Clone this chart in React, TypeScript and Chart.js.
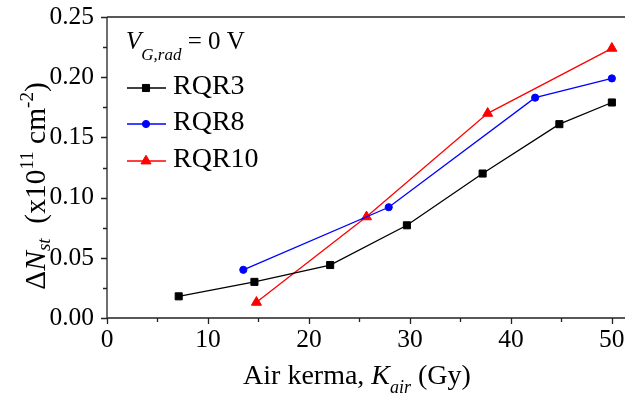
import React, { useEffect, useRef } from "react";
import { Chart, registerables } from "chart.js";

Chart.register(...registerables);

// ---- data ----
const rqr3X = [7.1, 14.6, 22.1, 29.7, 37.2, 44.8, 50.0];
const rqr3Y = [0.018, 0.030, 0.044, 0.077, 0.120, 0.161, 0.179];
const rqr8X = [13.5, 27.9, 42.4, 50.0];
const rqr8Y = [0.040, 0.092, 0.183, 0.199];
const rqr10X = [14.8, 25.7, 37.7, 50.0];
const rqr10Y = [0.013, 0.084, 0.170, 0.224];

const seriesNames = ["RQR3", "RQR8", "RQR10"];
const xMajorTicks = [0, 10, 20, 30, 40, 50];
const xMinorTicks = [5, 15, 25, 35, 45];
const yMajorTicks = [0, 0.05, 0.1, 0.15, 0.2, 0.25];
const yMinorTicks = [0.025, 0.075, 0.125, 0.175, 0.225];

const FONT = "'Liberation Serif', 'Times New Roman', serif";

type Piece = { t: string; italic?: boolean; size: number; dy?: number };

function drawPieces(ctx: CanvasRenderingContext2D, pieces: Piece[], x: number, y: number, center: boolean) {
  let total = 0;
  for (const p of pieces) {
    ctx.font = `${p.italic ? "italic " : ""}${p.size}px ${FONT}`;
    total += ctx.measureText(p.t).width;
  }
  let cx = center ? x - total / 2 : x;
  for (const p of pieces) {
    ctx.font = `${p.italic ? "italic " : ""}${p.size}px ${FONT}`;
    ctx.fillText(p.t, cx, y + (p.dy || 0));
    cx += ctx.measureText(p.t).width;
  }
}

function legendMarker(ctx: CanvasRenderingContext2D, style: string, r: number, x: number, y: number) {
  ctx.beginPath();
  if (style === "rect") {
    const s = r / Math.SQRT2;
    ctx.rect(x - s, y - s, 2 * s, 2 * s);
  } else if (style === "circle") {
    ctx.arc(x, y, r, 0, Math.PI * 2);
  } else {
    ctx.moveTo(x, y - r);
    ctx.lineTo(x + (Math.sqrt(3) / 2) * r, y + r / 2);
    ctx.lineTo(x - (Math.sqrt(3) / 2) * r, y + r / 2);
    ctx.closePath();
  }
  ctx.fill();
  ctx.stroke();
}

const decorPlugin = {
  id: "decor",
  afterDraw(chart: any) {
    const ctx: CanvasRenderingContext2D = chart.ctx;
    const xs = chart.scales.x;
    const ys = chart.scales.y;
    const { left, right, top, bottom } = chart.chartArea;
    ctx.save();
    ctx.strokeStyle = "#222";
    ctx.lineWidth = 1.3;
    // frame
    ctx.beginPath();
    ctx.moveTo(left, top);
    ctx.lineTo(left, bottom);
    ctx.lineTo(right, bottom);
    ctx.moveTo(left, top);
    ctx.lineTo(right, top);
    ctx.stroke();
    // ticks
    ctx.beginPath();
    for (const v of xMajorTicks) {
      const px = Math.round(xs.getPixelForValue(v)) + 0.5;
      ctx.moveTo(px, bottom);
      ctx.lineTo(px, bottom + 6);
    }
    for (const v of xMinorTicks) {
      const px = Math.round(xs.getPixelForValue(v)) + 0.5;
      ctx.moveTo(px, bottom);
      ctx.lineTo(px, bottom + 4);
    }
    for (const v of yMajorTicks) {
      const py = Math.round(ys.getPixelForValue(v)) + 0.5;
      ctx.moveTo(left, py);
      ctx.lineTo(left - 6, py);
    }
    for (const v of yMinorTicks) {
      const py = Math.round(ys.getPixelForValue(v)) + 0.5;
      ctx.moveTo(left, py);
      ctx.lineTo(left - 4, py);
    }
    ctx.stroke();

    ctx.fillStyle = "#000";

    // tick labels
    ctx.font = `25.5px ${FONT}`;
    ctx.textAlign = "center";
    ctx.textBaseline = "alphabetic";
    for (const v of xMajorTicks) {
      ctx.fillText(String(v), xs.getPixelForValue(v), 347);
    }
    ctx.textAlign = "right";
    ctx.textBaseline = "middle";
    for (const v of yMajorTicks) {
      ctx.fillText(v.toFixed(2), 94, ys.getPixelForValue(v));
    }

    ctx.textBaseline = "alphabetic";
    ctx.textAlign = "left";

    // x title
    drawPieces(
      ctx,
      [
        { t: "Air kerma, ", size: 28 },
        { t: "K", size: 28, italic: true },
        { t: "air", size: 18, italic: true, dy: 9 },
        { t: " (Gy)", size: 28 },
      ],
      357,
      384,
      true
    );

    // y title (rotated)
    ctx.save();
    ctx.translate(45, 186);
    ctx.rotate(-Math.PI / 2);
    drawPieces(
      ctx,
      [
        { t: "\u0394", size: 29.5 },
        { t: "N", size: 29.5, italic: true },
        { t: "st", size: 19, italic: true, dy: 5 },
        { t: "  (x10", size: 29.5 },
        { t: "11", size: 19, dy: -12 },
        { t: " cm", size: 29.5 },
        { t: "-2", size: 19, dy: -12 },
        { t: ")", size: 29.5 },
      ],
      0,
      0,
      true
    );
    ctx.restore();

    // legend
    drawPieces(
      ctx,
      [
        { t: "V", size: 25, italic: true },
        { t: "G,rad", size: 17, italic: true, dy: 11 },
        { t: " = 0 V", size: 25 },
      ],
      126,
      49,
      false
    );
    const rows = [88, 124, 161];
    chart.data.datasets.forEach((ds: any, i: number) => {
      const ry = rows[i];
      ctx.strokeStyle = ds.borderColor;
      ctx.lineWidth = ds.borderWidth;
      ctx.beginPath();
      ctx.moveTo(127, ry);
      ctx.lineTo(166, ry);
      ctx.stroke();
      ctx.fillStyle = ds.pointBackgroundColor;
      ctx.strokeStyle = ds.pointBorderColor;
      ctx.lineWidth = 1;
      legendMarker(ctx, ds.pointStyle, ds.pointRadius, 146, ry);
      ctx.fillStyle = "#000";
      ctx.font = `28px ${FONT}`;
      ctx.fillText(ds.label, 173, ry + 6);
    });
    ctx.restore();
  },
};

function toPoints(xs: number[], ys: number[]) {
  return xs.map((x, i) => ({ x, y: ys[i] }));
}

function zeroPad(s: any) {
  s.paddingTop = 0;
  s.paddingBottom = 0;
  s.paddingLeft = 0;
  s.paddingRight = 0;
}

export default function App() {
  const ref = useRef<HTMLCanvasElement | null>(null);
  useEffect(() => {
    document.body.style.margin = "0";
    const canvas = ref.current;
    if (!canvas) return;
    const mk = (label: string, xs: number[], ys: number[], color: string, style: string, r: number) => ({
      label,
      data: toPoints(xs, ys),
      showLine: true,
      borderColor: color,
      backgroundColor: color,
      borderWidth: 1.3,
      pointStyle: style,
      pointRadius: r,
      pointBackgroundColor: color,
      pointBorderColor: color,
      pointBorderWidth: 1,
      pointHoverRadius: r,
      tension: 0,
      clip: false,
    });
    const chart = new Chart(canvas, {
      type: "scatter",
      data: {
        datasets: [
          mk(seriesNames[0], rqr3X, rqr3Y, "#000000", "rect", 5),
          mk(seriesNames[1], rqr8X, rqr8Y, "#0000ff", "circle", 3.6),
          mk(seriesNames[2], rqr10X, rqr10Y, "#ff0000", "triangle", 5.8),
        ],
      },
      options: {
        responsive: false,
        animation: false,
        devicePixelRatio: 1,
        layout: { autoPadding: false, padding: { top: 17, right: 0, left: 0, bottom: 0 } },
        plugins: { legend: { display: false }, tooltip: { enabled: false } },
        scales: {
          x: {
            type: "linear",
            min: 0,
            max: 51.3,
            afterFit: (s: any) => {
              s.height = 78;
              zeroPad(s);
            },
            grid: { display: false, drawTicks: false },
            border: { display: false },
            ticks: { display: false, stepSize: 10, includeBounds: false },
          },
          y: {
            type: "linear",
            min: 0,
            max: 0.25,
            afterFit: (s: any) => {
              s.width = 107;
              zeroPad(s);
            },
            grid: { display: false, drawTicks: false },
            border: { display: false },
            ticks: { display: false, stepSize: 0.05 },
          },
        },
      },
      plugins: [decorPlugin],
    } as any);
    return () => chart.destroy();
  }, []);
  return <canvas ref={ref} width={625} height={396} style={{ display: "block" }} />;
}
